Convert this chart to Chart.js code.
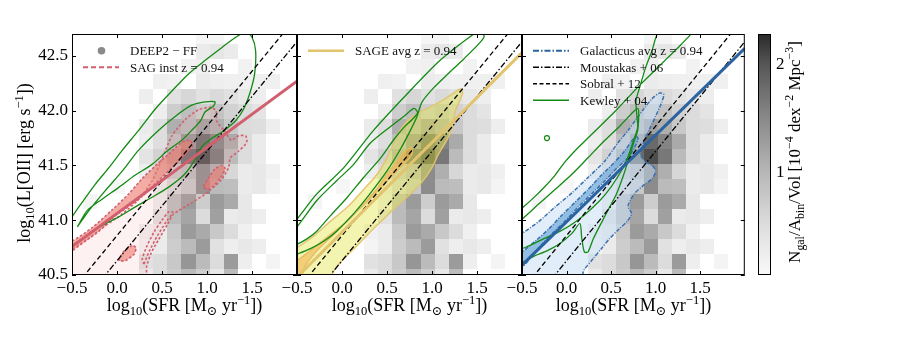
<!DOCTYPE html>
<html>
<head>
<meta charset="utf-8">
<script src="https://cdn.jsdelivr.net/npm/chart.js@4.4.0/dist/chart.umd.min.js"></script>
<style>
  body { margin: 0; background: #fff; }
  #wrap { position: relative; width: 913px; height: 344px; }
  #wrap canvas { position: absolute; top: 0; }
</style>
</head>
<body>
<div id="wrap">
  <canvas id="sag" width="300" height="344" style="left:0px"></canvas>
  <canvas id="sage" width="300" height="344" style="left:225px"></canvas>
  <canvas id="galacticus" width="300" height="344" style="left:450px"></canvas>
  <canvas id="cbar" width="173" height="344" style="left:740px"></canvas>
</div>
<script>
// DEEP2 - FF 2D histogram, N_gal/A_bin/Vol in 1e-4 dex^-2 Mpc^-3
const sfrBinEdges = [-0.383, -0.226, -0.069, 0.088, 0.245, 0.402, 0.559, 0.716, 0.873, 1.030, 1.187, 1.344, 1.501, 1.658, 1.815, 1.972];
const lumBinEdges = [40.418, 40.555, 40.692, 40.829, 40.966, 41.103, 41.240, 41.377, 41.514, 41.651, 41.788, 41.925, 42.062, 42.199, 42.336, 42.473, 42.610, 42.747];
// rows go from low to high log L[OII]
const deep2Density = [
  [0, 0, 0, 0, 0.28, 0.53, 0.72, 0.95, 0.72, 0.33, 0.95, 0, 0, 0, 0],
  [0, 0, 0, 0, 0.45, 0.53, 0.78, 1.36, 0.95, 0.53, 1.30, 0.23, 0, 0.13, 0],
  [0, 0, 0, 0, 0.13, 0.28, 0.72, 0.95, 1.30, 0.45, 0.23, 0.33, 0.23, 0, 0],
  [0, 0, 0, 0, 0.20, 0.28, 0.78, 1.30, 1.14, 0.78, 0.53, 0.20, 0, 0, 0],
  [0, 0, 0, 0, 0, 0.45, 0.95, 1.20, 0.53, 1.25, 0.28, 0.33, 0.23, 0, 0],
  [0.13, 0, 0, 0, 0, 0.23, 0.95, 1.30, 0.72, 1.30, 1.14, 0.33, 0, 0, 0],
  [0, 0, 0.10, 0, 0, 0.28, 0.59, 0.78, 1.47, 0.95, 0.91, 0.28, 0.33, 0.13, 0],
  [0, 0, 0, 0, 0.23, 0.53, 0.78, 0.95, 1.47, 1.09, 0.59, 0.28, 0.33, 0.20, 0],
  [0, 0, 0, 0, 0.40, 0.65, 1.14, 1.80, 2.05, 1.67, 0.95, 0.51, 0.28, 0, 0],
  [0, 0, 0, 0, 0.23, 0.50, 0.91, 1.36, 1.80, 1.55, 1.14, 0.53, 0.28, 0, 0],
  [0, 0, 0, 0, 0.28, 0.50, 1.09, 0.97, 1.25, 1.09, 0.78, 0.53, 0.50, 0.23, 0],
  [0, 0, 0, 0, 0, 0.23, 0.72, 0.91, 0.72, 0.85, 0.65, 0.53, 0.40, 0, 0],
  [0, 0, 0, 0, 0.23, 0, 0.45, 0.59, 0.45, 0.55, 0.45, 0.33, 0.23, 0, 0],
  [0, 0, 0, 0, 0, 0.20, 0.17, 0, 0.28, 0.23, 0.20, 0.20, 0.20, 0.20, 0],
  [0, 0, 0, 0, 0, 0, 0, 0.17, 0.20, 0, 0, 0.17, 0, 0, 0],
  [0, 0, 0, 0, 0, 0, 0, 0, 0.28, 0.37, 0.28, 0, 0, 0, 0],
  [0, 0, 0, 0, 0, 0, 0, 0, 0.12, 0.12, 0, 0, 0, 0, 0]
];

const xTicks = [-0.5, 0.0, 0.5, 1.0, 1.5];
const yTicks = [40.5, 41.0, 41.5, 42.0, 42.5];
const cbarTicks = [1, 2];

// literature relations (same in every panel)
const moustakas06 = [[-0.5, 40.13], [2.0, 42.63]];
const sobral12 = [[-0.5, 40.36], [2.0, 42.86]];

// model averages
const sagInstAvg = [[-0.5, 40.76], [2.0, 42.27]];
const sageAvg = [[-0.5, 40.48], [2.0, 42.53]];
const galacticusAvg = [[-0.5, 40.59], [2.0, 42.57]];

// SAG inst contours
const sagLevelLow = [[-0.54, 40.75], [-0.5, 40.74], [-0.31, 40.84], [-0.13, 40.95], [0.06, 41.06], [0.24, 41.19], [0.39, 41.36], [0.50, 41.56], [0.61, 41.77], [0.76, 41.92], [0.91, 42.01], [1.04, 42.03], [1.10, 42.00], [1.11, 41.90], [1.20, 41.81], [1.27, 41.73], [1.35, 41.77], [1.43, 41.77], [1.44, 41.71], [1.35, 41.63], [1.26, 41.57], [1.24, 41.48], [1.15, 41.36], [1.00, 41.25], [0.83, 41.16], [0.69, 41.09], [0.62, 41.05], [0.56, 40.96], [0.46, 40.82], [0.38, 40.70], [0.33, 40.58], [0.31, 40.47], [-0.54, 40.47]];
const sagLevelHigh = [[-0.54, 40.83], [-0.5, 40.81], [-0.28, 40.93], [-0.06, 41.09], [0.13, 41.24], [0.28, 41.38], [0.43, 41.50], [0.57, 41.60], [0.72, 41.71], [0.81, 41.73], [0.84, 41.68], [0.76, 41.60], [0.61, 41.48], [0.46, 41.36], [0.31, 41.24], [0.17, 41.15], [-0.02, 41.04], [-0.20, 40.90], [-0.35, 40.81], [-0.5, 40.72], [-0.54, 40.70]];
const sagIslandA = [[0.96, 41.31], [1.02, 41.39], [1.09, 41.47], [1.17, 41.50], [1.20, 41.47], [1.15, 41.39], [1.07, 41.31], [1.00, 41.28]];
const sagIslandB = [[0.02, 40.63], [0.07, 40.71], [0.17, 40.77], [0.21, 40.75], [0.19, 40.69], [0.09, 40.63]];
const sagLoop = [[0.30, 40.60], [0.36, 40.72], [0.45, 40.86], [0.55, 40.99], [0.62, 41.07], [0.58, 41.08], [0.50, 41.00], [0.41, 40.89], [0.33, 40.76], [0.28, 40.64]];

// SAGE avg contours
const sageLevelLow = [[-0.54, 40.74], [-0.5, 40.75], [-0.31, 40.86], [-0.13, 40.99], [0.06, 41.12], [0.24, 41.28], [0.39, 41.42], [0.50, 41.57], [0.61, 41.77], [0.72, 41.90], [0.87, 41.99], [1.02, 42.05], [1.15, 42.11], [1.24, 42.16], [1.32, 42.20], [1.34, 42.16], [1.30, 42.08], [1.25, 41.97], [1.23, 41.86], [1.17, 41.74], [1.07, 41.60], [1.00, 41.48], [0.89, 41.35], [0.76, 41.24], [0.61, 41.13], [0.46, 41.01], [0.31, 40.89], [0.17, 40.77], [0.02, 40.65], [-0.09, 40.54], [-0.14, 40.47], [-0.54, 40.47]];
const sageLevelHigh = [[-0.54, 40.61], [-0.5, 40.63], [-0.31, 40.75], [-0.13, 40.87], [0.06, 40.99], [0.24, 41.15], [0.39, 41.29], [0.50, 41.42], [0.61, 41.54], [0.70, 41.63], [0.77, 41.66], [0.78, 41.61], [0.72, 41.54], [0.61, 41.45], [0.46, 41.32], [0.28, 41.17], [0.09, 41.02], [-0.09, 40.87], [-0.28, 40.72], [-0.41, 40.58], [-0.46, 40.47], [-0.54, 40.47]];

// Galacticus avg contours
const galLevelLow = [[-0.54, 40.87], [-0.5, 40.88], [-0.31, 40.99], [-0.13, 41.12], [0.06, 41.25], [0.24, 41.39], [0.43, 41.54], [0.57, 41.70], [0.69, 41.82], [0.78, 41.92], [0.87, 42.02], [0.96, 42.11], [1.04, 42.16], [1.09, 42.15], [1.07, 42.08], [1.00, 41.95], [0.93, 41.83], [0.86, 41.70], [0.83, 41.60], [0.89, 41.53], [0.96, 41.50], [1.00, 41.45], [0.96, 41.38], [0.85, 41.31], [0.76, 41.24], [0.69, 41.13], [0.73, 41.06], [0.68, 40.99], [0.59, 40.92], [0.48, 40.83], [0.39, 40.74], [0.30, 40.65], [0.20, 40.55], [0.15, 40.47], [-0.54, 40.47]];
const galLevelHigh = [[-0.54, 40.69], [-0.5, 40.71], [-0.35, 40.81], [-0.20, 40.92], [-0.06, 41.04], [0.09, 41.16], [0.24, 41.28], [0.39, 41.41], [0.54, 41.53], [0.65, 41.63], [0.72, 41.71], [0.78, 41.77], [0.80, 41.74], [0.76, 41.66], [0.69, 41.57], [0.57, 41.48], [0.43, 41.36], [0.28, 41.24], [0.13, 41.12], [-0.02, 40.99], [-0.17, 40.87], [-0.31, 40.75], [-0.43, 40.63], [-0.5, 40.57], [-0.54, 40.55]];

// Kewley+04 contours for each model
const kewleySagOuter = [[-0.54, 40.98], [-0.5, 41.03], [-0.39, 41.16], [-0.24, 41.33], [-0.09, 41.48], [0.06, 41.64], [0.24, 41.82], [0.43, 42.02], [0.61, 42.18], [0.80, 42.34], [0.98, 42.46], [1.17, 42.58], [1.32, 42.67], [1.43, 42.72], [1.50, 42.67], [1.54, 42.55], [1.53, 42.34], [1.48, 42.17], [1.41, 42.02], [1.32, 41.91], [1.19, 41.82], [1.04, 41.74], [0.94, 41.67], [0.85, 41.53], [0.74, 41.41], [0.57, 41.30], [0.39, 41.21], [0.20, 41.12], [0.02, 41.03], [-0.17, 40.95], [-0.33, 40.86], [-0.5, 40.77], [-0.54, 40.75]];
const kewleySagInner = [[-0.44, 40.94], [-0.31, 41.09], [-0.13, 41.27], [0.06, 41.45], [0.24, 41.64], [0.46, 41.82], [0.65, 41.95], [0.83, 42.05], [0.98, 42.08], [1.09, 42.08], [1.07, 42.04], [0.98, 41.99], [0.93, 41.91], [0.83, 41.82], [0.72, 41.73], [0.57, 41.64], [0.39, 41.51], [0.20, 41.41], [0.02, 41.30], [-0.17, 41.19], [-0.33, 41.09], [-0.44, 40.94]];
const kewleySageOuter = [[-0.54, 40.98], [-0.5, 41.01], [-0.28, 41.24], [0.02, 41.48], [0.35, 41.82], [0.72, 42.15], [1.09, 42.46], [1.43, 42.68], [1.52, 42.72], [1.58, 42.68], [1.52, 42.61], [1.35, 42.47], [1.17, 42.33], [1.02, 42.21], [0.89, 42.08], [0.83, 41.94], [0.76, 41.82], [0.65, 41.65], [0.50, 41.45], [0.31, 41.24], [0.13, 41.06], [-0.06, 40.90], [-0.20, 40.81], [-0.35, 40.74], [-0.5, 40.69], [-0.54, 40.68]];
const kewleySageInner = [[-0.54, 40.92], [-0.5, 40.94], [-0.28, 41.18], [-0.06, 41.36], [0.13, 41.51], [0.31, 41.70], [0.50, 41.83], [0.69, 41.95], [0.80, 42.02], [0.84, 41.98], [0.78, 41.92], [0.69, 41.85], [0.57, 41.73], [0.43, 41.57], [0.24, 41.39], [0.06, 41.21], [-0.13, 41.04], [-0.28, 40.90], [-0.39, 40.83], [-0.5, 40.78], [-0.54, 40.77]];
const kewleyGalOuter = [[-0.54, 41.09], [-0.5, 41.11], [-0.35, 41.22], [-0.24, 41.31], [-0.13, 41.41], [-0.02, 41.53], [0.09, 41.63], [0.24, 41.75], [0.39, 41.87], [0.54, 41.99], [0.69, 42.12], [0.83, 42.24], [0.98, 42.36], [1.13, 42.48], [1.28, 42.60], [1.40, 42.72], [1.04, 42.72], [0.96, 42.55], [0.89, 42.40], [0.83, 42.24], [0.78, 42.09], [0.79, 41.94], [0.80, 41.83], [0.75, 41.70], [0.69, 41.54], [0.63, 41.39], [0.56, 41.24], [0.47, 41.10], [0.38, 40.96], [0.30, 40.83], [0.24, 40.71], [0.20, 40.71], [0.17, 40.84], [0.15, 40.97], [0.06, 40.88], [-0.07, 40.79], [-0.22, 40.72], [-0.37, 40.67], [-0.5, 40.61], [-0.54, 40.60]];
const kewleyGalInner = [[-0.54, 40.99], [-0.5, 41.01], [-0.31, 41.15], [-0.13, 41.28], [0.06, 41.42], [0.24, 41.57], [0.43, 41.73], [0.61, 41.87], [0.75, 41.99], [0.80, 42.02], [0.81, 41.97], [0.80, 41.85], [0.74, 41.70], [0.67, 41.54], [0.57, 41.39], [0.44, 41.24], [0.30, 41.12], [0.11, 40.99], [-0.07, 40.90], [-0.26, 40.83], [-0.41, 40.77], [-0.5, 40.74], [-0.54, 40.72]];
const kewleyGalBlob = [[-0.22, 41.75]];

// colours
const green = '#138a13';
const pink = '#d25f6e';
const gold = '#e2c46e';
const blue = '#2b63a0';
const greyStops = [[0, 252], [0.5, 222], [1.0, 183], [1.5, 137], [2.0, 86], [2.3, 38]];
const serif = "'Liberation Serif', 'DejaVu Serif', serif";

function greyFor(v) {
  let g = greyStops[greyStops.length - 1][1];
  for (let i = 1; i < greyStops.length; i++) {
    const [v0, g0] = greyStops[i - 1], [v1, g1] = greyStops[i];
    if (v <= v1) { g = g0 + (g1 - g0) * Math.max(0, v - v0) / (v1 - v0); break; }
  }
  g = Math.round(g);
  return `rgb(${g},${g},${g})`;
}

function pts(arr) { return arr.map(([x, y]) => ({ x, y })); }

function line(arr, color, width, dash) {
  return { data: pts(arr), borderColor: color, borderWidth: width, borderDash: dash || [],
    pointRadius: 0, fill: false, tension: 0, clip: 0 };
}

function contour(arr, color, width, dash, fillColor, closed) {
  const data = pts(closed ? arr.concat([arr[0]]) : arr);
  return { data, borderColor: color, borderWidth: width, borderDash: dash || [],
    backgroundColor: fillColor || 'transparent', fill: fillColor ? 'shape' : false,
    pointRadius: 0, tension: 0.25, clip: 0, borderJoinStyle: 'round' };
}

// text with sub/superscripts: parts = [[text, 'sub'|'sup'|undefined], ...]
function drawRich(ctx, parts, x, y, size, rotate) {
  ctx.save();
  ctx.translate(x, y);
  if (rotate) ctx.rotate(-Math.PI / 2);
  let total = 0;
  const items = parts.map(([t, mode]) => {
    const s = mode ? size * 0.7 : size;
    ctx.font = `${s}px ${serif}`;
    const w = ctx.measureText(t).width;
    total += w;
    return { t, mode, s, w };
  });
  let cx = -total / 2;
  ctx.fillStyle = '#000';
  ctx.textBaseline = 'alphabetic';
  items.forEach(it => {
    ctx.font = `${it.s}px ${serif}`;
    const dy = it.mode === 'sub' ? size * 0.22 : it.mode === 'sup' ? -size * 0.4 : 0;
    ctx.fillText(it.t, cx, dy);
    cx += it.w;
  });
  ctx.restore();
}

const xTitle = [['log'], ['10', 'sub'], ['(SFR [M'], ['\u2299', 'sub'], [' yr'], ['\u22121', 'sup'], ['])']];
const yTitle = [['log'], ['10', 'sub'], ['(L[OII] [erg s'], ['\u22121', 'sup'], ['])']];
const cbarTitle = [['N'], ['gal', 'sub'], ['/A'], ['bin', 'sub'], ['/Vol [10'], ['\u22124', 'sup'], [' dex'], ['\u22122', 'sup'], [' Mpc'], ['\u22123', 'sup'], [']']];

function fmtTick(v) { return (v < 0 ? '\u2212' : '') + Math.abs(v).toFixed(1); }

const heatmap = {
  id: 'heatmap',
  beforeDatasetsDraw(chart) {
    const { ctx, chartArea: a, scales: { x, y } } = chart;
    ctx.save();
    ctx.beginPath();
    ctx.rect(a.left, a.top, a.right - a.left, a.bottom - a.top);
    ctx.clip();
    deep2Density.forEach((row, i) => row.forEach((v, j) => {
      if (!v) return;
      const x0 = Math.round(x.getPixelForValue(sfrBinEdges[j]));
      const x1 = Math.round(x.getPixelForValue(sfrBinEdges[j + 1]));
      const y0 = Math.round(y.getPixelForValue(lumBinEdges[i]));
      const y1 = Math.round(y.getPixelForValue(lumBinEdges[i + 1]));
      ctx.fillStyle = greyFor(v);
      ctx.fillRect(x0, y1, x1 - x0, y0 - y1);
    }));
    ctx.restore();
  }
};

function drawFrame(chart) {
  const { ctx, chartArea: a, scales: { x, y } } = chart;
  ctx.save();
  ctx.strokeStyle = '#000';
  ctx.lineWidth = 1;
  ctx.strokeRect(a.left + 0.5, a.top + 0.5, a.right - a.left - 1, a.bottom - a.top - 1);
  ctx.beginPath();
  xTicks.forEach(v => {
    const px = Math.round(x.getPixelForValue(v)) + 0.5;
    ctx.moveTo(px, a.bottom); ctx.lineTo(px, a.bottom - 4);
    ctx.moveTo(px, a.top); ctx.lineTo(px, a.top + 4);
  });
  yTicks.forEach(v => {
    const py = Math.round(y.getPixelForValue(v)) + 0.5;
    ctx.moveTo(a.left, py); ctx.lineTo(a.left + 4, py);
    ctx.moveTo(a.right, py); ctx.lineTo(a.right - 4, py);
  });
  ctx.stroke();
  ctx.restore();
}

function decor(legendItems, withYTitle) {
  return {
    id: 'decor',
    afterDraw(chart) {
      const { ctx, chartArea: a } = chart;
      legendItems.forEach((it, i) => {
        const yy = a.top + 16.7 + i * 16.5;
        ctx.save();
        if (it.marker) {
          ctx.fillStyle = it.color;
          ctx.beginPath();
          ctx.arc(a.left + 29.5, yy, 3.8, 0, Math.PI * 2);
          ctx.fill();
        } else {
          ctx.strokeStyle = it.color;
          ctx.lineWidth = it.width;
          ctx.setLineDash(it.dash || []);
          ctx.beginPath();
          ctx.moveTo(a.left + 11, yy);
          ctx.lineTo(a.left + 47, yy);
          ctx.stroke();
        }
        ctx.fillStyle = '#111';
        ctx.font = `13px ${serif}`;
        ctx.textBaseline = 'middle';
        ctx.fillText(it.label, a.left + 58, yy + 1);
        ctx.restore();
      });
      drawRich(ctx, xTitle, (a.left + a.right) / 2, 311, 18, false);
      if (withYTitle) drawRich(ctx, yTitle, 30, 163, 18, true);
      drawFrame(chart);
    }
  };
}

function panel(id, datasets, legendItems, withYLabels) {
  return new Chart(document.getElementById(id), {
    type: 'line',
    data: { datasets },
    options: {
      responsive: false,
      animation: false,
      events: [],
      layout: { padding: { top: 34, right: 3, left: 0, bottom: 0 } },
      elements: { line: { capBezierPoints: false } },
      plugins: { legend: { display: false }, tooltip: { enabled: false } },
      scales: {
        x: {
          type: 'linear', min: -0.5, max: 2.0,
          afterBuildTicks: s => { s.ticks = xTicks.map(v => ({ value: v })); },
          afterFit: s => { s.height = 69; },
          grid: { display: false, drawTicks: false },
          border: { display: false },
          ticks: { color: '#000', font: { family: serif, size: 17 }, padding: 3,
            maxRotation: 0, autoSkip: false, callback: v => fmtTick(v) }
        },
        y: {
          type: 'linear', min: 40.5, max: 42.7,
          afterBuildTicks: s => { s.ticks = yTicks.map(v => ({ value: v })); },
          afterFit: s => { s.width = 72; },
          grid: { display: false, drawTicks: false },
          border: { display: false },
          ticks: { display: withYLabels, color: '#000', font: { family: serif, size: 17 }, padding: 4,
            callback: v => fmtTick(v) }
        }
      }
    },
    plugins: [heatmap, decor(legendItems, withYLabels)]
  });
}

const dashed = [5, 3];
const dashDot = [6, 2.2, 1.5, 2.2];
const pinkDots = [2.5, 2];

panel('sag', [
  line(sagInstAvg, pink, 3),
  line(sobral12, '#000', 1.3, dashed),
  line(moustakas06, '#000', 1.3, dashDot),
  contour(kewleySagOuter, green, 1.3),
  contour(kewleySagInner, green, 1.3, null, null, true),
  contour(sagIslandA, pink, 1.6, pinkDots, 'rgba(236,120,110,0.6)', true),
  contour(sagIslandB, pink, 1.6, pinkDots, 'rgba(236,120,110,0.6)', true),
  contour(sagLoop, pink, 1.6, pinkDots, null, true),
  contour(sagLevelHigh, pink, 1.6, pinkDots, 'rgba(238,122,110,0.62)'),
  contour(sagLevelLow, pink, 1.6, pinkDots, 'rgba(245,170,165,0.16)')
], [
  { marker: true, color: '#8a8a8a', label: 'DEEP2 \u2212 FF' },
  { color: pink, width: 2, dash: [5, 3], label: 'SAG inst z = 0.94' }
], true);

panel('sage', [
  line(sageAvg, gold, 3),
  line(sobral12, '#000', 1.3, dashed),
  line(moustakas06, '#000', 1.3, dashDot),
  contour(kewleySageOuter, green, 1.3),
  contour(kewleySageInner, green, 1.3),
  contour(sageLevelHigh, 'rgba(226,188,100,0.9)', 1.5, null, 'rgba(242,168,60,0.5)'),
  contour(sageLevelLow, 'rgba(226,196,110,0.95)', 1.5, null, 'rgba(228,230,80,0.45)')
], [
  { color: gold, width: 2.5, label: 'SAGE avg z = 0.94' }
], false);

panel('galacticus', [
  line(galacticusAvg, blue, 3),
  line(sobral12, '#000', 1.3, dashed),
  line(moustakas06, '#000', 1.3, dashDot),
  contour(kewleyGalOuter, green, 1.3),
  contour(kewleyGalInner, green, 1.3),
  { data: pts(kewleyGalBlob), showLine: false, pointRadius: 2.5, pointBorderColor: green,
    pointBackgroundColor: 'transparent', pointBorderWidth: 1.2, clip: 0 },
  contour(galLevelHigh, '#3a70b0', 1.5, [4, 1.5, 1, 1.5], 'rgba(110,168,216,0.68)'),
  contour(galLevelLow, '#3a70b0', 1.5, [4, 1.5, 1, 1.5], 'rgba(196,220,242,0.5)')
], [
  { color: blue, width: 2, dash: [6, 2, 1.5, 2], label: 'Galacticus avg z = 0.94' },
  { color: '#000', width: 1.5, dash: [6, 2, 1.5, 2], label: 'Moustakas + 06' },
  { color: '#000', width: 1.5, dash: [4, 2.5], label: 'Sobral + 12' },
  { color: green, width: 1.5, label: 'Kewley + 04' }
], false);

// colour bar
new Chart(document.getElementById('cbar'), {
  type: 'line',
  data: { datasets: [] },
  options: {
    responsive: false,
    animation: false,
    events: [],
    layout: { padding: { top: 34, left: 18, right: 0, bottom: 69 } },
    plugins: { legend: { display: false }, tooltip: { enabled: false } },
    scales: {
      x: { type: 'linear', display: false, min: 0, max: 1 },
      y: {
        type: 'linear', position: 'right', min: 0.05, max: 2.28,
        afterBuildTicks: s => { s.ticks = cbarTicks.map(v => ({ value: v })); },
        afterFit: s => { s.width = 142; },
        grid: { display: false, drawTicks: false },
        border: { display: false },
        ticks: { color: '#000', font: { family: serif, size: 17 }, padding: 5, callback: v => String(v) }
      }
    }
  },
  plugins: [{
    id: 'cbarFill',
    afterDraw(chart) {
      const { ctx, chartArea: a, scales: { y } } = chart;
      ctx.save();
      for (let py = a.top; py < a.bottom; py++) {
        ctx.fillStyle = greyFor(y.getValueForPixel(py + 0.5));
        ctx.fillRect(a.left, py, a.right - a.left, 1);
      }
      ctx.strokeStyle = '#000';
      ctx.lineWidth = 1;
      ctx.strokeRect(a.left + 0.5, a.top + 0.5, a.right - a.left - 1, a.bottom - a.top - 1);
      ctx.restore();
      drawRich(ctx, cbarTitle, 60, 152, 17, true);
    }
  }]
});
</script>
</body>
</html>
